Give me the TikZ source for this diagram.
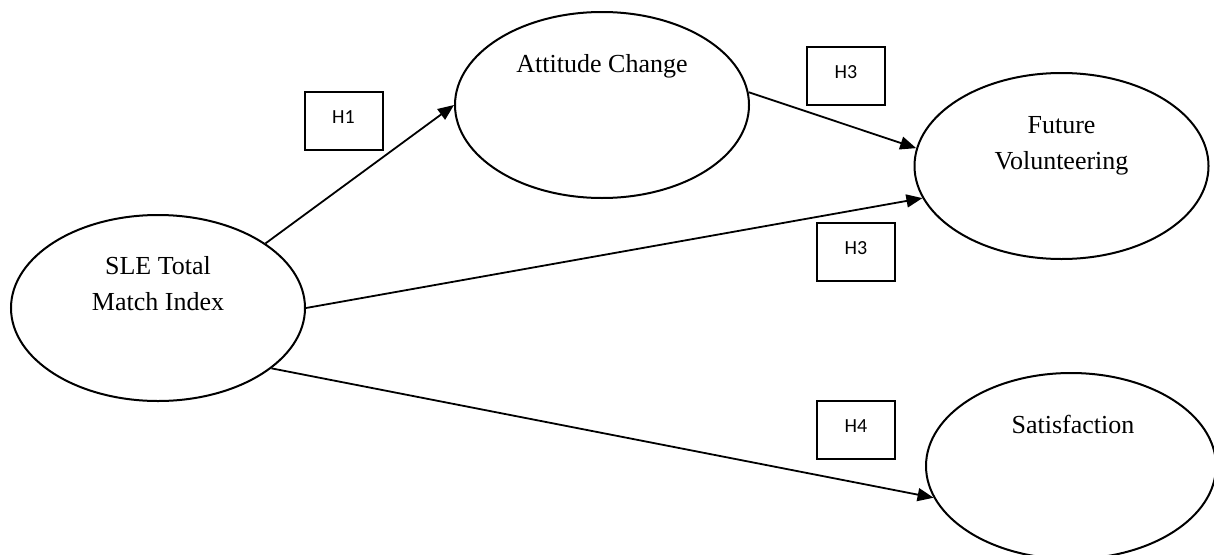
\documentclass[tikz,border=0pt]{standalone}
\usepackage{fontspec}
\setmainfont{Liberation Serif}
\newfontfamily\hfont{Carlito}
\usetikzlibrary{shapes.geometric,arrows.meta}
\begin{document}
\begin{tikzpicture}[x=1pt,y=-1pt,
  construct/.style={draw,ellipse,line width=2pt,inner sep=0pt,minimum width=294pt,minimum height=186pt},
  hbox/.style={draw,line width=2pt,inner sep=0pt,minimum width=78pt,minimum height=58pt},
  ctext/.style={anchor=base,inner sep=0pt,font=\fontsize{26}{30}\selectfont},
  htext/.style={anchor=base,inner sep=0pt,font=\hfont\fontsize{20}{22}\selectfont},
  path/.style={line width=1.8pt,-{Triangle[length=16pt,width=13pt]}}]
\useasboundingbox (0,0) rectangle (1214,554);
\fill[white] (0,0) rectangle (1214,554);
% constructs
\node[construct] (sle) at (158,308) {};
\node[construct] (att) at (602,105) {};
\node[construct] (fut) at (1061.5,166) {};
\node[construct,minimum width=290pt] (sat) at (1071,466) {};
% construct texts
\node[ctext] (sle1) at (158,274) {SLE Total};
\node[ctext] (sle2) at (158,310) {Match Index};
\node[ctext] (attt) at (602,72) {Attitude Change};
\node[ctext] (fut1) at (1061.5,133) {Future};
\node[ctext] (fut2) at (1061.5,169) {Volunteering};
\node[ctext] (satt) at (1073,433) {Satisfaction};
% hypothesis boxes
\node[hbox] (b1) at (343.5,121) {};
\node[hbox] (b3a) at (846,76) {};
\node[hbox] (b3b) at (856,252) {};
\node[hbox] (b4) at (856,430) {};
\node[htext] (h1) at (343.5,123) {H1};
\node[htext] (h3a) at (846,78) {H3};
\node[htext] (h3b) at (856,254) {H3};
\node[htext] (h4) at (856,432) {H4};
% paths
\draw[path] (sle.31) -- (att.180);
\draw[path] (att.5) -- (fut.173);
\draw[path] (sle.0) -- (fut.193);
\draw[path] (sle.-28) -- (sat.193);
\end{tikzpicture}
\end{document}
